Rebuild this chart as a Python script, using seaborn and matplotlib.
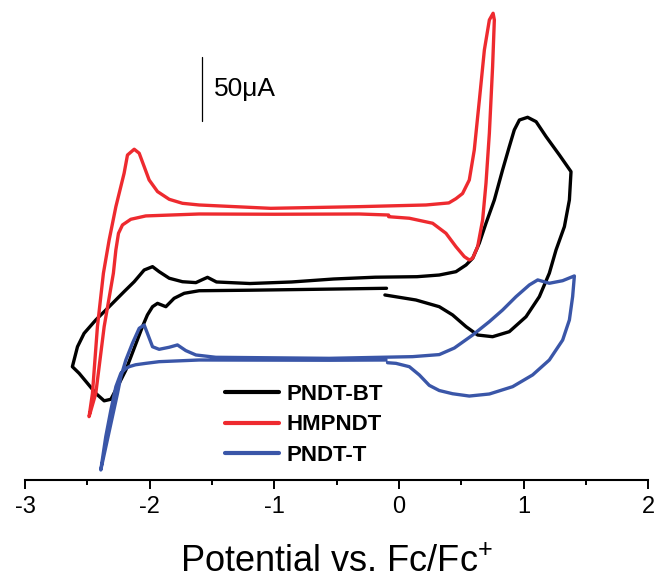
import numpy as np
import pandas as pd
import matplotlib
matplotlib.use("Agg")
import matplotlib.pyplot as plt
import seaborn as sns
from matplotlib.ticker import MultipleLocator

# ---------------- data (potential V vs Fc/Fc+, offset current in uA) ----------------
series_names = ["PNDT-BT", "HMPNDT", "PNDT-T"]
series_colors = ["#000000", "#EE2A2F", "#3A56A8"]

E_bt = [-0.113, 0.136, 0.323, 0.430, 0.538, 0.631, 0.751, 0.885, 1.019, 1.126, 1.206, 1.260,
        1.327, 1.367, 1.380, 1.287, 1.180, 1.100, 1.032, 0.966, 0.925, 0.885, 0.831, 0.765,
        0.698, 0.644, 0.591, 0.538, 0.457, 0.323, 0.145, -0.191, -0.526, -0.861, -1.196,
        -1.464, -1.536, -1.58, -1.629, -1.737, -1.843, -1.924, -1.977, -2.044, -2.124, -2.205,
        -2.325, -2.432, -2.526, -2.579, -2.620, -2.566, -2.499, -2.432, -2.365, -2.311, -2.258,
        -2.191, -2.058, -2.018, -1.977, -1.937, -1.870, -1.804, -1.723, -1.603, -1.2, -0.526,
        -0.10]
I_bt = [143.7, 139.8, 134.6, 128.2, 119.1, 112.6, 111.3, 115.2, 126.8, 142.4, 160.6, 178.7,
        196.8, 217.5, 239.5, 252.4, 266.7, 278.3, 281.7, 279.6, 271.9, 258.9, 240.8, 217.5,
        199.4, 183.9, 172.2, 167.0, 161.8, 159.2, 157.9, 157.5, 156.1, 153.8, 152.6,
        153.8, 157.4, 155.5, 153.3, 154.0, 156.7, 161.8, 165.7, 163.1, 154.0, 146.3,
        134.6, 124.3, 113.9, 103.5, 88.0, 82.9, 75.1, 67.3, 61.5, 62.7, 72.5,
        85.4, 119.1, 128.2, 134.6, 137.2, 134.6, 141.1, 145.0, 147.0, 147.4, 148.3,
        148.9]

E_hm = [-0.083, 0.083, 0.270, 0.377, 0.457, 0.524, 0.564, 0.591, 0.631, 0.671, 0.698, 0.725,
        0.751, 0.765, 0.755, 0.725, 0.685, 0.645, 0.604, 0.564, 0.510, 0.457, 0.400, 0.217,
        -0.319, -1.029, -1.603, -1.737, -1.843, -1.937, -2.004, -2.044, -2.084, -2.124, -2.178,
        -2.205, -2.271, -2.325, -2.371, -2.419, -2.459, -2.486, -2.432, -2.365, -2.291, -2.271,
        -2.250, -2.218, -2.151, -2.031, -1.603, -1.0, -0.319, -0.083]
I_hm = [204.5, 203.3, 199.4, 191.6, 181.2, 173.5, 170.9, 172.2, 181.2, 202.0, 230.5, 269.3,
        321.0, 357.3, 362.5, 357.3, 334.0, 295.2, 256.3, 233.0, 222.5, 218.5, 215.2, 213.6,
        212.3, 211.0, 213.6, 214.9, 218.0, 224.0, 233.0, 243.4, 253.8, 256.9, 252.4,
        238.2, 212.3, 186.4, 160.6, 119.1, 67.3, 49.2, 67.3, 119.1, 160.6, 178.7,
        191.6, 198.1, 202.5, 205.1, 206.6, 206.4, 206.6, 205.8]

E_t = [-0.092, -0.024, 0.083, 0.163, 0.243, 0.323, 0.430, 0.564, 0.725, 0.912, 1.072, 1.206,
       1.313, 1.367, 1.393, 1.407, 1.313, 1.206, 1.113, 1.046, 0.939, 0.831, 0.725, 0.591,
       0.444, 0.323, 0.109, -0.559, -1.469, -1.629, -1.710, -1.777, -1.843, -1.924, -1.977,
       -2.018, -2.044, -2.084, -2.138, -2.191, -2.231, -2.258, -2.392, -2.352, -2.311,
       -2.271, -2.231, -2.193, -2.165, -2.113, -2.031, -1.924, -1.603, -0.559, -0.104]
I_t = [91.1, 90.6, 88.0, 81.6, 73.5, 69.5, 67.0, 65.2, 66.8, 72.5, 81.6, 93.2,
       108.7, 124.3, 142.4, 158.5, 154.8, 152.8, 155.4, 151.5, 142.4, 132.0, 123.0, 112.6,
       102.5, 97.4, 95.8, 94.5, 95.3, 97.1, 100.5, 104.9, 103.1, 101.5, 103.5,
       113.9, 120.4, 117.8, 106.2, 93.2, 80.2, 67.3, 7.8, 33.7, 54.4,
       72.5, 82.9, 86.5, 88.0, 89.5, 90.6, 91.9, 93.2, 93.0, 93.2]

x_ticks = [-3, -2, -1, 0, 1, 2]
scale_bar_E = -1.582
scale_bar_I = (278.9, 328.9)   # 50 uA
scale_text = "50\u03bcA"

# ---------------- build table ----------------
frames = []
for name, E, I in [("PNDT-BT", E_bt, I_bt), ("HMPNDT", E_hm, I_hm), ("PNDT-T", E_t, I_t)]:
    frames.append(pd.DataFrame({"E": E, "I": I, "series": name, "step": np.arange(len(E))}))
df = pd.concat(frames, ignore_index=True)

# ---------------- plot ----------------
sns.set_style("white")
plt.rcParams["font.family"] = ["Liberation Sans", "DejaVu Sans"]
plt.rcParams["mathtext.fontset"] = "custom"
plt.rcParams["mathtext.rm"] = "Liberation Sans"
plt.rcParams["text.color"] = "black"
plt.rcParams["axes.labelcolor"] = "black"
plt.rcParams["xtick.color"] = "black"

fig = plt.figure(figsize=(6.55, 5.82), dpi=100)
ax = fig.add_axes([25 / 655, 102 / 582, 623.3 / 655, 480 / 582])

sns.lineplot(data=df, x="E", y="I", hue="series", hue_order=series_names,
             palette=dict(zip(series_names, series_colors)), sort=False,
             estimator=None, linewidth=2.4, ax=ax)
for ln in ax.get_lines():
    ln.set_solid_joinstyle("round")
    ln.set_solid_capstyle("round")

ax.set_xlim(-3, 2)
ax.set_ylim(0, 372.8)
ax.set_xticks(x_ticks)
ax.set_xticklabels([str(t) for t in x_ticks])
ax.xaxis.set_minor_locator(MultipleLocator(0.5))
ax.set_yticks([])
ax.set_ylabel("")
for s in ["left", "right", "top"]:
    ax.spines[s].set_visible(False)
ax.spines["bottom"].set_linewidth(1.5)
ax.spines["bottom"].set_color("black")
ax.tick_params(axis="x", which="major", direction="out", length=6.5, width=1.4,
               labelsize=17, pad=5, colors="black", labelcolor="black", bottom=True)
ax.tick_params(axis="x", which="minor", direction="out", length=3.6, width=1.4,
               colors="black", bottom=True)
ax.set_xlabel("Potential vs. Fc/Fc$^{+}$", fontsize=26, labelpad=19, color="black")

# scale bar
ax.plot([scale_bar_E, scale_bar_E], list(scale_bar_I), color="black", linewidth=0.9)
ax.text(scale_bar_E + 0.10, sum(scale_bar_I) / 2, scale_text, fontsize=19,
        ha="left", va="center", color="black")

handles, labels = ax.get_legend_handles_labels()
leg = ax.legend(handles, labels, loc="upper left",
                bbox_to_anchor=(225 / 655, 1 - 384 / 582), bbox_transform=fig.transFigure,
                frameon=False, prop={"weight": "bold", "size": 16},
                handlelength=2.45, handletextpad=0.3, labelspacing=0.42,
                borderpad=0, borderaxespad=0, labelcolor="black")
for h in leg.get_lines():
    h.set_linewidth(3)

fig.savefig("out.png", dpi=100)
